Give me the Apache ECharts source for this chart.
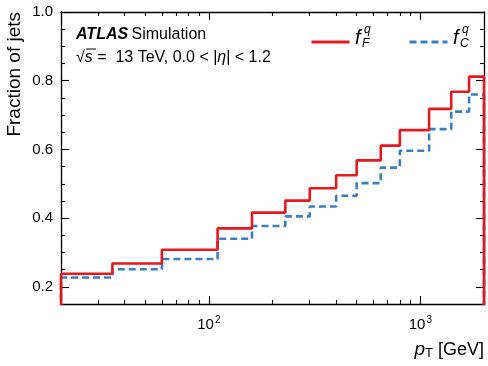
<!DOCTYPE html>
<html>
<head>
<meta charset="utf-8">
<script src="https://cdn.jsdelivr.net/npm/echarts@6/dist/echarts.min.js"></script>
<style>
  html, body { margin: 0; padding: 0; background: #fff; }
  #chart { width: 488px; height: 366px; }
</style>
</head>
<body>
<div id="chart"></div>
<script>
  // bin edges in pT [GeV] and fractions per bin
  const binEdges = [20, 35, 60, 110, 160, 230, 300, 400, 500, 650, 800, 1100, 1400, 1700, 2000]
  const fracF = [0.238, 0.268, 0.308, 0.370, 0.416, 0.451, 0.487, 0.525, 0.568, 0.611, 0.656, 0.718, 0.768, 0.812]
  const fracC = [0.227, 0.251, 0.281, 0.340, 0.377, 0.405, 0.434, 0.465, 0.502, 0.547, 0.596, 0.659, 0.710, 0.760]

  const yMajor = [0.2, 0.4, 0.6, 0.8, 1.0]
  const yMinor = [0.25, 0.3, 0.35, 0.45, 0.5, 0.55, 0.65, 0.7, 0.75, 0.85, 0.9, 0.95]
  const xMajor = [100, 1000]
  const xMinor = [30, 40, 50, 60, 70, 80, 90, 200, 300, 400, 500, 600, 700, 800, 900]

  const FONT = 'Liberation Sans'
  const RED = '#e3191f'
  const BLUE = '#3b7fc0'

  // histogram outline: rises from 0 at first edge, falls back to 0 at last edge
  function histData(vals) {
    const last = binEdges[binEdges.length - 1]
    const d = [[binEdges[0], 0]]
    vals.forEach((v, i) => d.push([binEdges[i], v]))
    d.push([last, vals[vals.length - 1]])
    d.push([last, 0])
    return d
  }

  function xAxisCfg(position, ticks, len, withLine, withLabels) {
    return {
      type: 'log',
      logBase: 10,
      min: 20,
      max: 2000,
      position: position,
      axisLine: { show: withLine, onZero: false, lineStyle: { color: '#000', width: 1.3 } },
      axisTick: { show: true, inside: true, length: len, customValues: ticks, lineStyle: { color: '#000', width: 1.1 } },
      axisLabel: withLabels ? {
        show: true,
        customValues: ticks,
        margin: 11,
        fontFamily: FONT,
        fontSize: 15,
        color: '#000',
        formatter: v => '10{sup|' + Math.round(Math.log10(v)) + '}',
        rich: { sup: { fontFamily: FONT, fontSize: 10, color: '#000', verticalAlign: 'top', padding: [0, 0, 10, 1] } }
      } : { show: false },
      splitLine: { show: false },
      minorTick: { show: false }
    }
  }

  function yAxisCfg(position, ticks, len, withLine, withLabels) {
    return {
      type: 'value',
      min: 0.15,
      max: 1.0,
      position: position,
      axisLine: { show: withLine, onZero: false, lineStyle: { color: '#000', width: 1.3 } },
      axisTick: { show: true, inside: true, length: len, customValues: ticks, lineStyle: { color: '#000', width: 1.1 } },
      axisLabel: withLabels ? {
        show: true,
        customValues: ticks,
        margin: 8,
        fontFamily: FONT,
        fontSize: 15,
        color: '#000',
        formatter: v => v.toFixed(1)
      } : { show: false },
      splitLine: { show: false }
    }
  }

  const option = {
    animation: false,
    backgroundColor: '#fff',
    grid: { left: 61, right: 4, top: 12, bottom: 62, containLabel: false },
    xAxis: [
      xAxisCfg('bottom', xMajor, 8, true, true),
      xAxisCfg('bottom', xMinor, 4, false, false),
      xAxisCfg('top', xMajor, 8, true, false),
      xAxisCfg('top', xMinor, 4, false, false)
    ],
    yAxis: [
      yAxisCfg('left', yMajor, 8, true, true),
      yAxisCfg('left', yMinor, 4, false, false),
      yAxisCfg('right', yMajor, 8, true, false),
      yAxisCfg('right', yMinor, 4, false, false)
    ],
    legend: [
      { data: ['fF'], left: 305, top: 30, itemWidth: 38, itemHeight: 14, itemStyle: { opacity: 0 }, lineStyle: { width: 3 }, formatter: () => '', textStyle: { fontSize: 1 } },
      { data: ['fC'], left: 403, top: 30, itemWidth: 38, itemHeight: 14, itemStyle: { opacity: 0 }, lineStyle: { width: 3 }, formatter: () => '', textStyle: { fontSize: 1 } }
    ],
    series: [
      {
        name: 'fF',
        type: 'line',
        step: 'end',
        symbol: 'none',
        clip: true,
        data: histData(fracF),
        lineStyle: { color: RED, width: 2.6 },
        itemStyle: { color: RED },
        z: 3
      },
      {
        name: 'fC',
        type: 'line',
        step: 'end',
        symbol: 'none',
        clip: true,
        data: histData(fracC),
        lineStyle: { color: BLUE, width: 2.6, type: [7, 4] },
        itemStyle: { color: BLUE },
        z: 2
      }
    ],
    graphic: [
      {
        type: 'text', x: 76, y: 35,
        style: {
          text: '{b|ATLAS} {n|Simulation}',
          verticalAlign: 'middle',
          rich: {
            b: { fontFamily: FONT, fontSize: 16, fontWeight: 'bold', fontStyle: 'italic', fill: '#000' },
            n: { fontFamily: FONT, fontSize: 16, fill: '#000' }
          }
        }
      },
      {
        type: 'text', x: 76, y: 58,
        style: {
          text: '√{i|s} =  13 TeV, 0.0 < |{i|η}| < 1.2',
          verticalAlign: 'middle',
          fontFamily: FONT, fontSize: 16, fill: '#000',
          rich: { i: { fontFamily: FONT, fontSize: 16, fontStyle: 'italic', fill: '#000' } }
        }
      },
      { type: 'line', shape: { x1: 86, y1: 49, x2: 96, y2: 49 }, style: { stroke: '#000', lineWidth: 1 } },
      { type: 'text', x: 355, y: 38, style: { text: 'f', fontFamily: FONT, fontSize: 20, fontStyle: 'italic', fill: '#000', verticalAlign: 'middle' } },
      { type: 'text', x: 364, y: 30, style: { text: 'q', fontFamily: FONT, fontSize: 12, fontStyle: 'italic', fill: '#000', verticalAlign: 'middle' } },
      { type: 'text', x: 362, y: 44, style: { text: 'F', fontFamily: FONT, fontSize: 12, fontStyle: 'italic', fill: '#000', verticalAlign: 'middle' } },
      { type: 'text', x: 453, y: 38, style: { text: 'f', fontFamily: FONT, fontSize: 20, fontStyle: 'italic', fill: '#000', verticalAlign: 'middle' } },
      { type: 'text', x: 462, y: 30, style: { text: 'q', fontFamily: FONT, fontSize: 12, fontStyle: 'italic', fill: '#000', verticalAlign: 'middle' } },
      { type: 'text', x: 460, y: 44, style: { text: 'C', fontFamily: FONT, fontSize: 12, fontStyle: 'italic', fill: '#000', verticalAlign: 'middle' } },
      {
        type: 'text', x: 15, y: 12, rotation: Math.PI / 2,
        style: { text: 'Fraction of jets', fontFamily: FONT, fontSize: 19, fill: '#000', align: 'right', verticalAlign: 'middle' }
      },
      {
        type: 'text', x: 484, y: 350,
        style: {
          text: '{i|p}{s|T} [GeV]',
          align: 'right', verticalAlign: 'middle',
          fontFamily: FONT, fontSize: 18, fill: '#000',
          rich: {
            i: { fontFamily: FONT, fontSize: 19, fontStyle: 'italic', fill: '#000' },
            s: { fontFamily: FONT, fontSize: 13, fill: '#000', verticalAlign: 'bottom', padding: [6, 0, 0, 0] }
          }
        }
      }
    ]
  }

  const myChart = echarts.init(document.getElementById('chart'))
  myChart.setOption(option)
</script>
</body>
</html>
